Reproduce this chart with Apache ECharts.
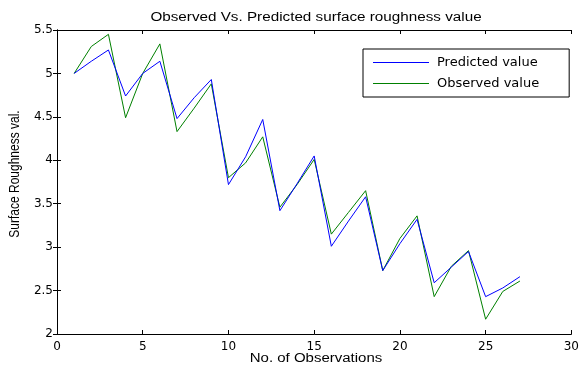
<!DOCTYPE html>
<html>
<head>
<meta charset="utf-8">
<script src="https://cdn.jsdelivr.net/npm/echarts@6/dist/echarts.min.js"></script>
<style>html,body{margin:0;padding:0;background:#fff;}#c{width:582px;height:367px;}</style>
</head>
<body>
<div id="c"></div>
<script>
var observations = [1,2,3,4,5,6,7,8,9,10,11,12,13,14,15,16,17,18,19,20,21,22,23,24,25,26,27];
var predicted = [5.0,5.14,5.27,4.74,5.0,5.14,4.48,4.72,4.93,3.72,4.04,4.47,3.42,3.73,4.05,3.01,3.30,3.58,2.73,3.04,3.32,2.59,2.77,2.95,2.43,2.53,2.66];
var observed  = [5.0,5.31,5.45,4.49,5.0,5.34,4.33,4.60,4.88,3.80,3.97,4.27,3.46,3.72,4.01,3.15,3.40,3.65,2.73,3.10,3.36,2.43,2.78,2.96,2.17,2.49,2.61];

var titleText = 'Observed Vs. Predicted surface roughness value';
var xName = 'No. of Observations';
var yName = 'Surface Roughness val.';

function pairs(xs, ys){ return xs.map(function(x,i){return [x, ys[i]];}); }
var font = 'Liberation Sans, Arial, sans-serif';
var tickFont = 'DejaVu Sans, sans-serif';
var chart = echarts.init(document.getElementById('c'), null, {renderer:'canvas'});
var axisCommon = {
  axisLine:{show:true, lineStyle:{color:'#000', width:1}},
  axisTick:{show:true, inside:true, length:4, lineStyle:{color:'#000'}},
  splitLine:{show:false}
};
chart.setOption({
  animation:false,
  backgroundColor:'#fff',
  graphic:[
    {type:'text', x:316, y:18, scaleX:1.27, silent:true,
      style:{text:titleText, align:'center', verticalAlign:'middle', fontFamily:font, fontSize:12, fill:'#000'}},
    {type:'text', x:316, y:359, scaleX:1.25, silent:true,
      style:{text:xName, align:'center', verticalAlign:'middle', fontFamily:font, fontSize:12, fill:'#000'}},
    {type:'text', x:15, y:174, rotation:Math.PI/2, scaleY:1.2, silent:true,
      style:{text:yName, align:'center', verticalAlign:'middle', fontFamily:font, fontSize:12, fill:'#000'}}
  ],
  legend:{orient:'vertical', left:363, top:49, icon:'rect', itemWidth:56, itemHeight:1, itemGap:8,
    padding:[7,30,7,10], borderColor:'#000', borderWidth:1, backgroundColor:'#fff',
    textStyle:{fontFamily:tickFont, fontSize:13, color:'#000', padding:[0,0,0,3], lineHeight:13},
    data:['Predicted value','Observed value']},
  grid:{left:57, right:9, top:30, bottom:33, containLabel:false},
  xAxis:[
    Object.assign({type:'value', min:0, max:30, interval:5, position:'bottom',
      axisLabel:{fontFamily:tickFont, fontSize:12, color:'#000', margin:7}}, axisCommon),
    Object.assign({type:'value', min:0, max:30, interval:5, position:'top',
      axisLabel:{show:false}}, axisCommon)
  ],
  yAxis:[
    Object.assign({type:'value', min:2, max:5.5, interval:0.5, position:'left',
      axisLabel:{fontFamily:tickFont, fontSize:12, color:'#000', margin:4}}, axisCommon),
    Object.assign({type:'value', min:2, max:5.5, interval:0.5, position:'right',
      axisLabel:{show:false}}, axisCommon)
  ],
  series:[
    {name:'Predicted value', type:'line', data:pairs(observations, predicted), symbol:'none',
      lineStyle:{color:'#0000ff', width:1}, itemStyle:{color:'#0000ff'}, z:3},
    {name:'Observed value', type:'line', data:pairs(observations, observed), symbol:'none',
      lineStyle:{color:'#008000', width:1}, itemStyle:{color:'#008000'}, z:2}
  ]
});
</script>
</body>
</html>
